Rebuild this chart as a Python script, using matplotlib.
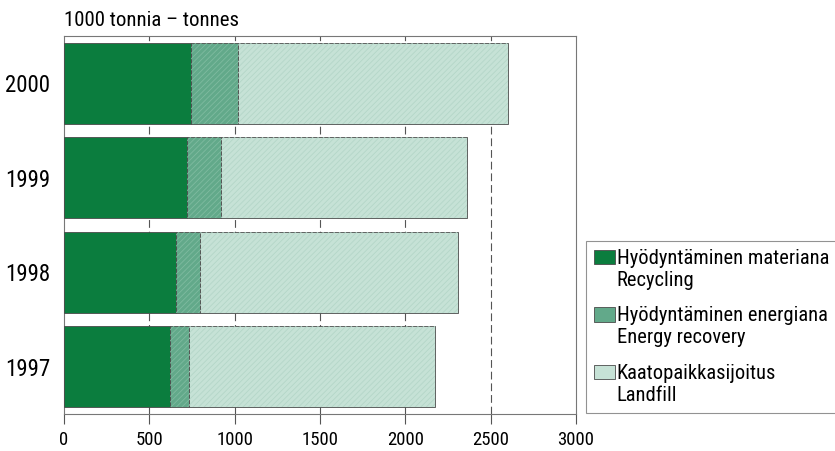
import numpy as np
import matplotlib
matplotlib.use("Agg")
import matplotlib.pyplot as plt
from matplotlib import font_manager
from matplotlib.legend_handler import HandlerPatch
from matplotlib.patches import Rectangle

# =========================
# DATA (1000 tonnes)
# =========================
years = ["1997", "1998", "1999", "2000"]
recycling = [619, 655, 720, 747]
energy = [115, 140, 198, 272]
landfill = [1441, 1514, 1441, 1584]

labels = [
    "Hyödyntäminen materiana\nRecycling",
    "Hyödyntäminen energiana\nEnergy recovery",
    "Kaatopaikkasijoitus\nLandfill",
]
colors = ["#0b7d3e", "#62a98a", "#c6e2d6"]
hatch_colors = [None, "#7fbba0", "#b4d6c8"]
xticks = [0, 500, 1000, 1500, 2000, 2500, 3000]

# =========================
# FONT: narrow font if there is one
# =========================
available = set(f.name for f in font_manager.fontManager.ttflist)
narrow = None
for name in ["Roboto Condensed", "Liberation Sans Narrow", "Arial Narrow",
             "Archivo Narrow", "PT Sans Narrow"]:
    if name in available:
        narrow = name
        break
if narrow:
    plt.rcParams["font.family"] = [narrow, "DejaVu Sans"]
    k = 1.0
else:
    plt.rcParams["font.family"] = ["DejaVu Sans"]
    k = 0.8
plt.rcParams["hatch.linewidth"] = 0.6


# legend box sits next to the first line of the label, not centred
class TopHandler(HandlerPatch):
    def create_artists(self, legend, orig_handle, xdescent, ydescent,
                       width, height, fontsize, trans):
        p = Rectangle((-xdescent, -ydescent + 0.62 * fontsize), width, height)
        self.update_prop(p, orig_handle, legend)
        p.set_transform(trans)
        return [p]


# =========================
# CHART
# =========================
fig = plt.figure(figsize=(8.35, 4.51), dpi=100, facecolor="white")
ax = fig.add_axes([64 / 835, 1 - 414 / 451, (576 - 64) / 835, (414 - 36) / 451])

y = np.arange(len(years))
left = np.zeros(len(years))
handles = []
for vals, col, hcol, lab in zip([recycling, energy, landfill], colors, hatch_colors, labels):
    bars = ax.barh(y, vals, left=left, height=0.855, color=col, label=lab,
                   edgecolor="#4a4a4a", linewidth=0.6, zorder=3)
    handles.append(bars[0])
    if hcol:
        # faint screen texture like the printed original
        ax.barh(y, vals, left=left, height=0.855, color="none",
                edgecolor=hcol, hatch="//////", linewidth=0, zorder=4)
    left = left + np.array(vals)

ax.set_xlim(0, 3000)
ax.set_ylim(-0.5, 3.5)
ax.set_xticks(xticks)
ax.set_xticklabels([str(t) for t in xticks], fontsize=13.5 * k)
ax.set_yticks(y)
ax.set_yticklabels(years, fontsize=16.5 * k)
ax.tick_params(axis="y", length=0, pad=10)
ax.tick_params(axis="x", length=7, width=0.8, color="#555555", pad=5)

for xv in xticks[1:-1]:
    ax.axvline(xv, color="#555555", linestyle=(0, (7, 3.5)), linewidth=0.8, zorder=1)

for spine in ax.spines.values():
    spine.set_edgecolor("#777777")
    spine.set_linewidth(0.8)

fig.text(64 / 835, 1 - 20 / 451, "1000 tonnia – tonnes", fontsize=15 * k,
         va="center", ha="left")

leg = fig.legend(handles, labels, loc="lower left",
                 bbox_to_anchor=(586 / 835, 1 - 413 / 451),
                 bbox_transform=fig.transFigure, fontsize=14.8 * k, frameon=True,
                 fancybox=False, edgecolor="#777777", handlelength=1.0,
                 handleheight=0.7, handletextpad=0.1, labelspacing=0.8,
                 borderpad=0.4, borderaxespad=0,
                 handler_map={Rectangle: TopHandler()})
leg.get_frame().set_linewidth(0.8)

plt.savefig("out.png", dpi=100, facecolor="white")
plt.close()
